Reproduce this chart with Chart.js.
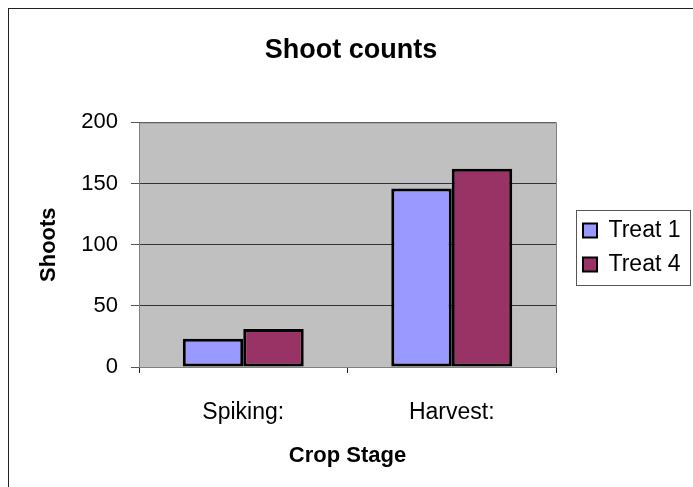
<!DOCTYPE html>
<html>
<head>
<meta charset="utf-8">
<script src="https://cdn.jsdelivr.net/npm/chart.js@4"></script>
<style>
  body { margin: 0; background: #fff; }
  #wrap { width: 693px; height: 487px; }
</style>
</head>
<body>
<div id="wrap"><canvas id="grafico"></canvas></div>
<script>
const etapas = ["Spiking:", "Harvest:"];
const treat1 = [23, 146];
const treat4 = [31, 162];
const marcasY = [0, 50, 100, 150, 200];

const fuente = "Liberation Sans, Arial, sans-serif";

// fondo gris del area de trazado, marco exterior y caja de leyenda
const marcos = {
    id: "marcos",
    beforeLayout(chart) {
        const l = chart.legend;
        if (l && !l._fijo) {
            const fitOriginal = l.fit;
            l.fit = function () {
                fitOriginal.call(this);
                this.width = 134;
            };
            l._fijo = true;
        }
    },
    afterLayout(chart) {
        // mover los items de la leyenda un poco a la derecha
        const l = chart.legend;
        l.left += 16; l.right += 16;
        l.top += 4; l.bottom += 4;
    },
    beforeDraw(chart) {
        const c = chart.ctx, a = chart.chartArea;
        c.save();
        c.fillStyle = "#c0c0c0";
        c.fillRect(a.left, a.top, a.right - a.left, a.bottom - a.top);
        c.restore();
    },
    afterDatasetsDraw(chart) {
        const c = chart.ctx, a = chart.chartArea;
        c.save();
        c.strokeStyle = "#808080";
        c.lineWidth = 1;
        c.strokeRect(a.left + 0.5, a.top + 0.5, a.right - a.left, a.bottom - a.top);
        c.restore();
    },
    afterDraw(chart) {
        const c = chart.ctx;
        c.save();
        c.strokeStyle = "#222";
        c.lineWidth = 1;
        c.strokeRect(8.5, 8.5, 720, 520);
        const cajas = chart.legend.legendHitBoxes;
        if (cajas && cajas.length) {
            const x0 = Math.min(...cajas.map(b => b.left)) - 7;
            const x1 = Math.max(...cajas.map(b => b.left + b.width)) + 9;
            const y0 = cajas[0].top + cajas[0].height / 2 - 21;
            const y1 = cajas[cajas.length - 1].top + cajas[cajas.length - 1].height / 2 + 20;
            c.strokeStyle = "#555";
            c.strokeRect(Math.round(x0) + 0.5, Math.round(y0) + 0.5, Math.round(x1 - x0), Math.round(y1 - y0));
        }
        c.restore();
    }
};

new Chart(document.getElementById("grafico"), {
    type: "bar",
    data: {
        labels: etapas,
        datasets: [{
            label: "Treat 1",
            data: treat1,
            backgroundColor: "#9999ff",
            borderColor: "#000",
            borderWidth: 3,
            borderSkipped: false,
            categoryPercentage: 0.58,
            barPercentage: 1.0
        }, {
            label: "Treat 4",
            data: treat4,
            backgroundColor: "#993366",
            borderColor: "#000",
            borderWidth: 3,
            borderSkipped: false,
            categoryPercentage: 0.58,
            barPercentage: 1.0
        }]
    },
    options: {
        responsive: true,
        maintainAspectRatio: false,
        animation: false,
        layout: { padding: { left: 12, top: 10, right: 3, bottom: 10 } },
        plugins: {
            title: {
                display: true,
                text: "Shoot counts",
                color: "#000",
                font: { family: fuente, size: 27, weight: "bold" },
                padding: { top: 24, bottom: 56 }
            },
            legend: {
                position: "right",
                labels: {
                    color: "#000",
                    font: { family: fuente, size: 23 },
                    boxWidth: 14,
                    boxHeight: 14,
                    padding: 11,
                    generateLabels(chart) {
                        return chart.data.datasets.map((d, i) => ({
                            text: d.label,
                            fillStyle: d.backgroundColor,
                            strokeStyle: "#000",
                            lineWidth: 2,
                            fontColor: "#000",
                            datasetIndex: i
                        }));
                    }
                }
            },
            tooltip: { enabled: false }
        },
        scales: {
            x: {
                grid: {
                    drawOnChartArea: false,
                    drawTicks: true,
                    tickLength: 6,
                    color: "#222",
                    offset: true
                },
                border: { display: false },
                ticks: {
                    color: "#000",
                    padding: 26,
                    font: { family: fuente, size: 23 }
                },
                title: {
                    display: true,
                    text: "Crop Stage",
                    color: "#000",
                    font: { family: fuente, size: 22, weight: "bold" },
                    padding: { top: 4, bottom: 8 }
                },
                afterFit(scale) { scale.height = 110; }
            },
            y: {
                min: 0,
                max: 200,
                afterBuildTicks(scale) { scale.ticks = marcasY.map(v => ({ value: v })); },
                grid: {
                    color: "#333",
                    tickColor: "#555",
                    tickLength: 8,
                    lineWidth: 1
                },
                border: { display: false },
                ticks: {
                    color: "#000",
                    padding: 13,
                    font: { family: fuente, size: 22 }
                },
                title: {
                    display: true,
                    text: "Shoots",
                    color: "#000",
                    font: { family: fuente, size: 22, weight: "bold" },
                    padding: { top: 24, bottom: 4 }
                },
                afterFit(scale) { scale.width = 127; }
            }
        }
    },
    plugins: [marcos]
});
</script>
</body>
</html>
